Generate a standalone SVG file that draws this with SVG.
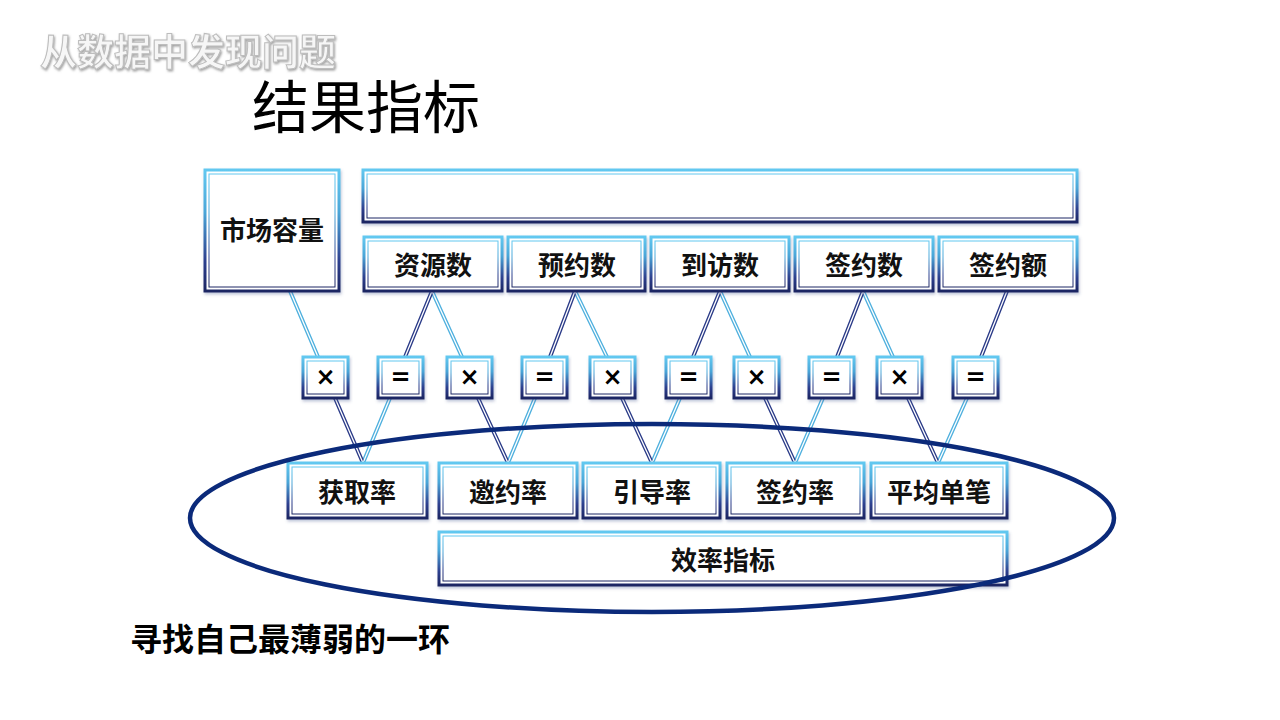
<svg xmlns="http://www.w3.org/2000/svg" width="1280" height="720" viewBox="0 0 1280 720">
<defs>
<linearGradient id="bg" x1="0" y1="0" x2="0" y2="1">
<stop offset="0" stop-color="#62c8f0"/>
<stop offset="0.35" stop-color="#4aa6d8"/>
<stop offset="0.75" stop-color="#2d3f8e"/>
<stop offset="1" stop-color="#1c2663"/>
</linearGradient>
<filter id="sh" x="-10%" y="-10%" width="120%" height="130%">
<feDropShadow dx="1" dy="2" stdDeviation="1.5" flood-color="#4a5a90" flood-opacity="0.35"/>
</filter>
<filter id="emb" x="-5%" y="-20%" width="110%" height="140%">
<feDropShadow dx="1" dy="1.5" stdDeviation="0.8" flood-color="#777" flood-opacity="0.7"/>
</filter>
</defs>
<style>
.box{fill:#fff;stroke:url(#bg);stroke-width:3;filter:url(#sh)}
.inner{fill:none;stroke:url(#bg);stroke-width:1}
.t{font-family:"Noto Sans CJK SC","Noto Sans",sans-serif;font-weight:700;font-size:26px;fill:#111;text-anchor:middle;dominant-baseline:central}
.op{font-family:"DejaVu Sans","Noto Sans",sans-serif;font-weight:700;font-size:24px;fill:#000;text-anchor:middle;dominant-baseline:central}
.lt{fill:none;stroke:#4fb0de;stroke-width:4}
.nv{fill:none;stroke:#2b3b88;stroke-width:4}
.wh{fill:none;stroke:#fff;stroke-width:1.3}
</style>
<rect width="1280" height="720" fill="#fff"/>
<text x="40" y="66" font-family="'Noto Sans CJK SC',sans-serif" font-weight="700" font-size="37" fill="#f6f6f6" stroke="#bdbdbd" stroke-width="1" filter="url(#emb)">从数据中发现问题</text>
<text x="252" y="128" font-family="'Noto Sans CJK SC',sans-serif" font-weight="400" font-size="57" fill="#000">结果指标</text>

<g id="connectors">
<path class="lt" d="M290,291L318,357M432,291L462,357M575,291L607,357M720,291L750,357M863,291L893,357M390,398L363,463M535,398L508,463M680,398L652,463M823,398L795,463M967,398L938,463"/>
<path class="nv" d="M432,291L405,357M575,291L550,357M720,291L693,357M863,291L837,357M1007,291L981,357M335,398L363,463M478,398L508,463M622,398L652,463M765,398L795,463M908,398L938,463"/>
<path class="wh" d="M290,291L318,357M432,291L462,357M575,291L607,357M720,291L750,357M863,291L893,357M390,398L363,463M535,398L508,463M680,398L652,463M823,398L795,463M967,398L938,463M432,291L405,357M575,291L550,357M720,291L693,357M863,291L837,357M1007,291L981,357M335,398L363,463M478,398L508,463M622,398L652,463M765,398L795,463M908,398L938,463"/>
</g>

<g id="n-market"><rect class="box" x="205" y="170" width="134" height="121"/><rect class="inner" x="209" y="174" width="126" height="113"/><text class="t" x="272" y="228">市场容量</text></g>
<g id="n-top"><rect class="box" x="363" y="170" width="714" height="52"/><rect class="inner" x="367" y="174" width="706" height="44"/></g>
<g id="n-res"><rect class="box" x="364" y="237" width="138" height="54"/><rect class="inner" x="368" y="241" width="130" height="46"/><text class="t" x="433" y="263">资源数</text></g>
<g id="n-appt"><rect class="box" x="508" y="237" width="137" height="54"/><rect class="inner" x="512" y="241" width="129" height="46"/><text class="t" x="577" y="263">预约数</text></g>
<g id="n-visit"><rect class="box" x="651" y="237" width="138" height="54"/><rect class="inner" x="655" y="241" width="130" height="46"/><text class="t" x="720" y="263">到访数</text></g>
<g id="n-sign"><rect class="box" x="795" y="237" width="138" height="54"/><rect class="inner" x="799" y="241" width="130" height="46"/><text class="t" x="864" y="263">签约数</text></g>
<g id="n-amt"><rect class="box" x="939" y="237" width="138" height="54"/><rect class="inner" x="943" y="241" width="130" height="46"/><text class="t" x="1008" y="263">签约额</text></g>

<g id="op1"><rect class="box" x="303" y="357" width="45" height="41"/><rect class="inner" x="307" y="361" width="37" height="33"/><text class="op" x="325.5" y="377">×</text></g>
<g id="op2"><rect class="box" x="378" y="357" width="45" height="41"/><rect class="inner" x="382" y="361" width="37" height="33"/><text class="op" x="400.5" y="377">=</text></g>
<g id="op3"><rect class="box" x="447" y="357" width="45" height="41"/><rect class="inner" x="451" y="361" width="37" height="33"/><text class="op" x="469.5" y="377">×</text></g>
<g id="op4"><rect class="box" x="522" y="357" width="45" height="41"/><rect class="inner" x="526" y="361" width="37" height="33"/><text class="op" x="544.5" y="377">=</text></g>
<g id="op5"><rect class="box" x="590" y="357" width="45" height="41"/><rect class="inner" x="594" y="361" width="37" height="33"/><text class="op" x="612.5" y="377">×</text></g>
<g id="op6"><rect class="box" x="666" y="357" width="45" height="41"/><rect class="inner" x="670" y="361" width="37" height="33"/><text class="op" x="688.5" y="377">=</text></g>
<g id="op7"><rect class="box" x="734" y="357" width="45" height="41"/><rect class="inner" x="738" y="361" width="37" height="33"/><text class="op" x="756.5" y="377">×</text></g>
<g id="op8"><rect class="box" x="809" y="357" width="45" height="41"/><rect class="inner" x="813" y="361" width="37" height="33"/><text class="op" x="831.5" y="377">=</text></g>
<g id="op9"><rect class="box" x="877" y="357" width="45" height="41"/><rect class="inner" x="881" y="361" width="37" height="33"/><text class="op" x="899.5" y="377">×</text></g>
<g id="op10"><rect class="box" x="953" y="357" width="45" height="41"/><rect class="inner" x="957" y="361" width="37" height="33"/><text class="op" x="975.5" y="377">=</text></g>

<g id="n-acq"><rect class="box" x="288" y="463" width="139" height="55"/><rect class="inner" x="292" y="467" width="131" height="47"/><text class="t" x="357" y="490">获取率</text></g>
<g id="n-inv"><rect class="box" x="439" y="463" width="138" height="55"/><rect class="inner" x="443" y="467" width="130" height="47"/><text class="t" x="508" y="490">邀约率</text></g>
<g id="n-guide"><rect class="box" x="583" y="463" width="137" height="55"/><rect class="inner" x="587" y="467" width="129" height="47"/><text class="t" x="652" y="490">引导率</text></g>
<g id="n-srate"><rect class="box" x="727" y="463" width="137" height="55"/><rect class="inner" x="731" y="467" width="129" height="47"/><text class="t" x="795" y="490">签约率</text></g>
<g id="n-avg"><rect class="box" x="871" y="463" width="136" height="55"/><rect class="inner" x="875" y="467" width="128" height="47"/><text class="t" x="939" y="490">平均单笔</text></g>
<g id="n-eff"><rect class="box" x="439" y="532" width="568" height="53"/><rect class="inner" x="443" y="536" width="560" height="45"/><text class="t" x="723" y="558">效率指标</text></g>

<ellipse cx="652" cy="518" rx="462" ry="94" fill="none" stroke="#0b2a7a" stroke-width="4.5"/>

<text x="130" y="637" font-family="'Noto Sans CJK SC',sans-serif" font-weight="700" font-size="32" fill="#000" dominant-baseline="central">寻找自己最薄弱的一环</text>
</svg>
